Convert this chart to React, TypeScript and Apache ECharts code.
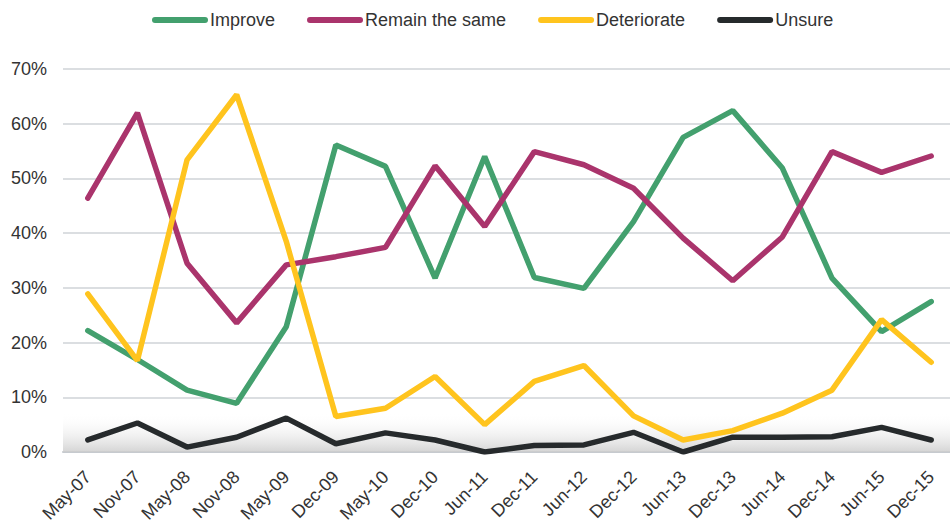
import React, { useEffect, useRef } from "react";
import * as echarts from "echarts";

const categories = [
  "May-07", "Nov-07", "May-08", "Nov-08", "May-09", "Dec-09", "May-10", "Dec-10", "Jun-11",
  "Dec-11", "Jun-12", "Dec-12", "Jun-13", "Dec-13", "Jun-14", "Dec-14", "Jun-15", "Dec-15",
];

const improve = [22.2, 16.9, 11.3, 8.9, 22.9, 56.1, 52.2, 31.8, 54.0, 31.9, 29.9, 42.1, 57.5, 62.4, 51.9, 31.8, 22.0, 27.5];
const remainSame = [46.4, 62.0, 34.5, 23.6, 34.2, 35.7, 37.4, 52.3, 41.2, 54.9, 52.5, 48.2, 39.1, 31.3, 39.3, 54.9, 51.1, 54.1];
const deteriorate = [28.9, 16.7, 53.4, 65.3, 38.5, 6.5, 8.0, 13.8, 5.0, 12.9, 15.8, 6.6, 2.2, 3.9, 7.1, 11.3, 24.2, 16.4];
const unsure = [2.2, 5.3, 0.9, 2.7, 6.2, 1.5, 3.5, 2.2, 0.0, 1.2, 1.3, 3.6, 0.0, 2.7, 2.7, 2.8, 4.5, 2.2];

const seriesNames = ["Improve", "Remain the same", "Deteriorate", "Unsure"];
const seriesColors = ["#43a06e", "#aa346c", "#ffc41e", "#262a2c"];
const yTicks = [0, 10, 20, 30, 40, 50, 60, 70];

const FONT = "'Liberation Sans', Arial, sans-serif";

export default function App() {
  const ref = useRef<HTMLDivElement>(null);

  useEffect(() => {
    if (!ref.current) return;
    const chart = echarts.init(ref.current, undefined, { renderer: "svg" });
    const dataSets = [improve, remainSame, deteriorate, unsure];

    const series: any[] = dataSets.map((d, i) => ({
      name: seriesNames[i],
      type: "line",
      data: d,
      symbol: "none",
      lineStyle: { width: 5.5, color: seriesColors[i], cap: "round" },
      itemStyle: { color: seriesColors[i] },
      z: 3 + i,
    }));

    series[0].markArea = {
      silent: true,
      z: 1,
      itemStyle: {
        color: new echarts.graphic.LinearGradient(0, 0, 0, 1, [
          { offset: 0, color: "rgba(255,255,255,0)" },
          { offset: 1, color: "rgba(205,205,205,0.85)" },
        ]),
      },
      data: [[{ yAxis: 0 }, { yAxis: 7.2 }]],
    };

    chart.setOption({
      animation: false,
      backgroundColor: "#ffffff",
      legend: {
        data: seriesNames,
        left: 147,
        top: 6,
        itemWidth: 56,
        itemHeight: 6,
        itemGap: 32,
        icon: "path://M3,0 L53,0 A3,3 0 0 1 53,6 L3,6 A3,3 0 0 1 3,0 Z",
        textStyle: { fontSize: 18, fontFamily: FONT, color: "#333", padding: [2, 0, 0, -3] },
      },
      grid: { left: 63, right: -6, top: 69, bottom: 70, containLabel: false, outerBoundsMode: "none" },
      xAxis: {
        type: "category",
        data: categories,
        boundaryGap: true,
        axisLine: { show: true, lineStyle: { color: "#c6cacf", width: 2 } },
        axisTick: { show: false },
        axisLabel: {
          rotate: 45,
          margin: 22,
          interval: 0,
          hideOverlap: false,
          fontSize: 18,
          fontFamily: FONT,
          color: "#333",
        },
      },
      yAxis: {
        type: "value",
        min: yTicks[0],
        max: yTicks[yTicks.length - 1],
        interval: 10,
        axisLine: { show: false },
        axisTick: { show: false },
        splitLine: { lineStyle: { color: "#cfd3d7", width: 1.5 } },
        axisLabel: {
          formatter: "{value}%",
          margin: 16,
          fontSize: 18,
          fontFamily: FONT,
          color: "#333",
        },
      },
      series,
    });

    return () => chart.dispose();
  }, []);

  return (
    <div
      ref={ref}
      style={{ position: "fixed", left: 0, top: 0, width: 950, height: 522, background: "#fff" }}
    />
  );
}
